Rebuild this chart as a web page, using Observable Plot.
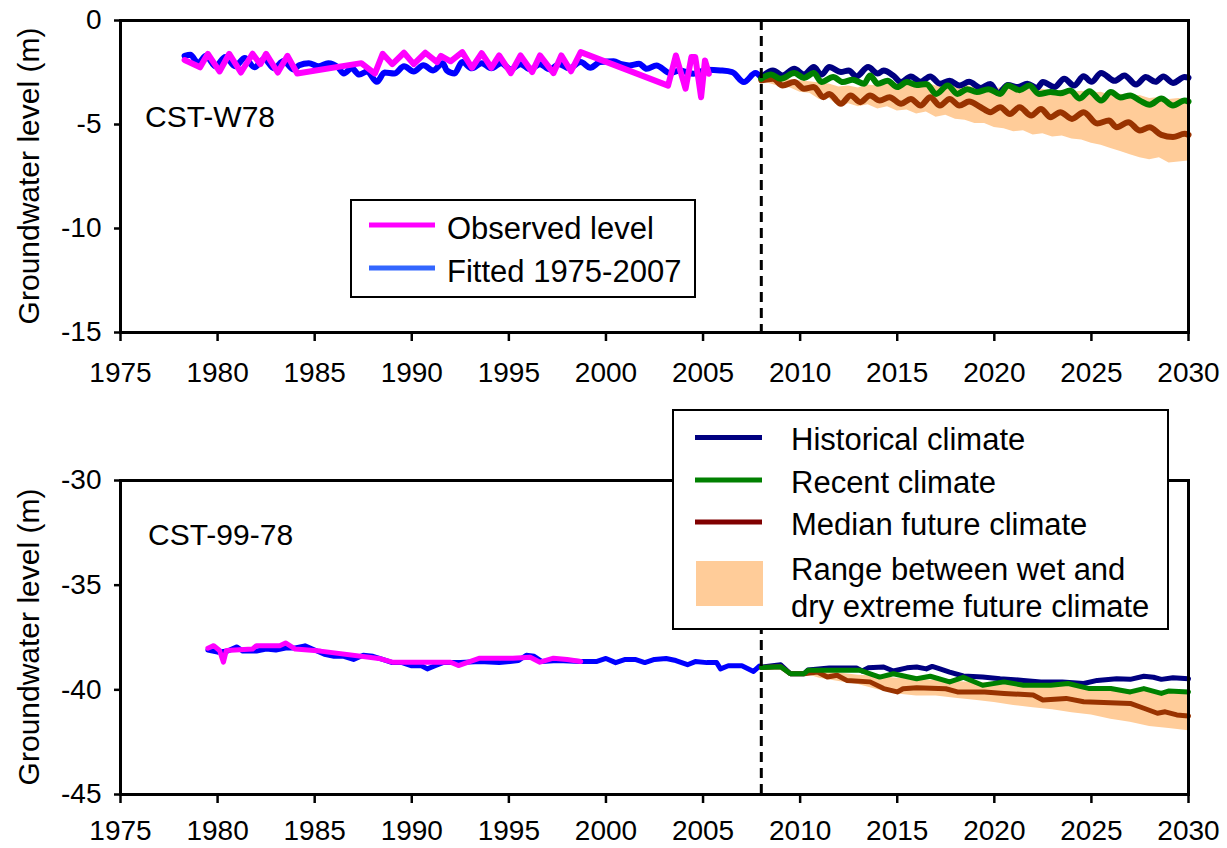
<!DOCTYPE html>
<html>
<head>
<meta charset="utf-8">
<script src="https://cdn.jsdelivr.net/npm/d3@7"></script>
<script src="https://cdn.jsdelivr.net/npm/@observablehq/plot@0.6"></script>
<style>
  html, body { margin: 0; padding: 0; background: #fff; }
  #page { position: relative; width: 1227px; height: 848px; overflow: hidden; font-family: "Liberation Sans", Arial, sans-serif; }
  .panel { position: absolute; left: 0; }
  #overlay { position: absolute; left: 0; top: 0; pointer-events: none; }
</style>
</head>
<body>
<div id="page">
  <div id="top" class="panel" style="top:0"></div>
  <div id="bottom" class="panel" style="top:400px"></div>
  <svg id="overlay" width="1227" height="848" font-family="Liberation Sans, Arial, sans-serif"></svg>
</div>
<script>
// ---------- shared axis values ----------
const yearTicks = [1975, 1980, 1985, 1990, 1995, 2000, 2005, 2010, 2015, 2020, 2025, 2030];
const scenarioStart = 2008;

// ---------- CST-W78 (top panel) ----------
const w78LevelTicks = [0, -5, -10, -15];
const w78Observed = [
  [1978.3,-1.9],[1979.1,-2.25],[1979.5,-1.6],[1980.1,-2.45],[1980.6,-1.6],[1981.2,-2.5],[1981.8,-1.6],
  [1982.2,-2.1],[1982.5,-1.6],[1983.1,-2.5],[1983.6,-1.7],[1984.1,-2.55],[1987.4,-2.05],[1988.1,-2.55],
  [1988.5,-1.6],[1989.0,-2.1],[1989.6,-1.55],[1990.1,-2.1],[1990.7,-1.55],[1991.3,-2.0],[1991.5,-1.7],
  [1992.0,-1.96],[1992.6,-1.52],[1993.1,-2.27],[1993.6,-1.57],[1994.1,-2.27],[1994.5,-1.68],[1995.1,-2.53],
  [1995.6,-1.68],[1996.2,-2.48],[1996.6,-1.68],[1997.3,-2.53],[1997.7,-1.68],[1998.2,-2.44],[1998.7,-1.52],
  [2003.2,-3.13],[2003.6,-1.68],[2004.1,-3.28],[2004.4,-1.76],[2004.6,-1.76],[2004.9,-3.69],[2005.1,-1.92],[2005.3,-2.56]
];
const w78Fitted = [
  [1978.3,-1.7],[1978.6,-1.65],[1979.0,-2.05],[1979.4,-1.7],[1979.9,-2.2],[1980.4,-1.75],[1980.9,-2.2],
  [1981.4,-1.8],[1981.9,-2.25],[1982.4,-1.85],[1982.9,-2.3],[1983.4,-1.95],[1983.9,-2.35],[1984.2,-2.15],
  [1984.7,-2.05],[1985.2,-2.2],[1985.7,-2.05],[1986.2,-2.25],[1986.5,-2.55],[1986.9,-2.3],[1987.3,-2.6],
  [1987.7,-2.45],[1988.2,-2.95],[1988.6,-2.5],[1989.1,-2.55],[1989.6,-2.2],[1990.1,-2.45],[1990.6,-2.15],
  [1991.1,-2.4],[1991.6,-2.05],[1991.8,-2.4],[1992.2,-2.55],[1992.6,-2.0],[1993.1,-2.3],[1993.6,-2.05],
  [1994.1,-2.3],[1994.6,-2.05],[1995.1,-2.35],[1995.6,-2.1],[1996.1,-2.35],[1996.6,-2.1],[1997.1,-2.35],
  [1997.6,-2.1],[1998.1,-2.3],[1998.7,-2.0],[1999.2,-2.27],[1999.7,-2.0],[2000.4,-1.96],[2000.8,-2.1],
  [2001.2,-2.16],[2001.7,-2.08],[2002.1,-2.32],[2002.6,-2.16],[2003.3,-2.53],[2003.8,-2.4],[2004.5,-2.56],
  [2005.2,-2.37],[2005.9,-2.4],[2006.5,-2.48],[2007.1,-2.96],[2007.7,-2.53],[2008.0,-2.76]
];
const w78Historical = [
  [2008.0,-2.72],[2008.6,-2.4],[2009.1,-2.64],[2009.7,-2.32],[2010.2,-2.6],[2010.7,-2.24],[2011.1,-2.6],
  [2011.5,-2.24],[2012.1,-2.48],[2012.5,-2.4],[2012.9,-2.69],[2013.5,-2.24],[2014.0,-2.55],[2014.3,-2.4],
  [2014.8,-2.65],[2015.2,-2.96],[2015.7,-2.69],[2016.2,-2.95],[2016.7,-2.69],[2017.2,-3.04],[2017.7,-2.9],
  [2018.2,-3.13],[2018.7,-2.95],[2019.3,-3.24],[2019.8,-3.05],[2020.2,-3.5],[2020.7,-3.1],[2021.2,-3.2],
  [2021.7,-3.04],[2022.2,-3.24],[2022.5,-2.96],[2023.1,-3.2],[2023.6,-2.8],[2024.1,-3.13],[2024.6,-2.68],
  [2025.0,-2.95],[2025.5,-2.52],[2026.2,-2.9],[2026.7,-2.64],[2027.3,-3.08],[2027.8,-2.72],[2028.3,-2.95],
  [2028.7,-2.69],[2029.2,-3.0],[2029.8,-2.72],[2030.0,-2.75]
];
const w78Recent = [
  [2008.0,-2.8],[2008.5,-2.6],[2009.0,-2.8],[2009.7,-2.53],[2010.2,-2.76],[2010.7,-2.53],[2011.1,-2.96],
  [2011.7,-2.72],[2012.2,-2.96],[2012.7,-2.85],[2013.3,-3.04],[2013.6,-2.64],[2014.0,-3.04],[2014.5,-2.9],
  [2015.0,-3.2],[2015.5,-2.96],[2016.0,-3.1],[2016.5,-3.05],[2017.0,-3.53],[2017.6,-3.13],[2018.1,-3.53],
  [2018.6,-3.3],[2019.1,-3.44],[2019.7,-3.3],[2020.3,-3.53],[2020.7,-3.13],[2021.3,-3.35],[2021.8,-3.13],
  [2022.3,-3.53],[2022.9,-3.44],[2023.4,-3.5],[2023.9,-3.37],[2024.4,-3.75],[2024.9,-3.4],[2025.5,-3.85],
  [2026.0,-3.44],[2026.5,-3.7],[2027.0,-3.6],[2027.5,-3.85],[2028.0,-4.05],[2028.6,-3.75],[2029.2,-4.09],
  [2029.8,-3.85],[2030.0,-3.9]
];
const w78Median = [
  [2008.0,-2.88],[2008.6,-2.8],[2009.1,-3.13],[2009.7,-2.96],[2010.2,-3.28],[2010.7,-3.2],[2011.2,-3.69],
  [2011.5,-3.53],[2012.1,-4.0],[2012.6,-3.6],[2013.1,-3.93],[2013.6,-3.6],[2014.1,-3.85],[2014.6,-3.69],
  [2015.2,-4.0],[2015.7,-3.77],[2016.2,-4.09],[2016.7,-3.69],[2017.2,-4.09],[2017.7,-3.77],[2018.2,-4.09],
  [2018.7,-3.9],[2019.3,-4.17],[2019.8,-4.41],[2020.3,-4.17],[2020.8,-4.49],[2021.3,-4.17],[2021.9,-4.57],
  [2022.4,-4.25],[2022.9,-4.65],[2023.4,-4.41],[2024.0,-4.73],[2024.6,-4.41],[2025.3,-4.95],[2025.9,-4.81],
  [2026.3,-5.13],[2026.9,-4.89],[2027.5,-5.29],[2028.0,-5.13],[2028.6,-5.5],[2029.2,-5.6],[2029.8,-5.45],[2030.0,-5.5]
];
// [year, wet (upper), dry (lower)]
const w78Range = [
  [2008.0,-2.8,-2.95],[2008.5,-2.75,-3.05],[2009.0,-2.8,-3.2],[2009.5,-2.85,-3.25],[2010.0,-2.9,-3.45],
  [2010.5,-2.95,-3.5],[2011.0,-3.0,-3.8],[2011.5,-3.05,-3.75],[2012.0,-3.2,-4.15],[2012.5,-3.15,-4.0],
  [2013.0,-3.25,-4.15],[2013.5,-3.1,-4.05],[2014.0,-3.15,-4.25],[2014.5,-3.05,-4.15],[2015.0,-3.05,-4.35],
  [2015.5,-2.95,-4.3],[2016.0,-3.05,-4.5],[2016.5,-3.0,-4.4],[2017.0,-3.15,-4.65],[2017.5,-3.05,-4.55],
  [2018.0,-3.2,-4.75],[2018.5,-3.1,-4.8],[2019.0,-3.25,-4.95],[2019.5,-3.15,-4.95],[2020.0,-3.3,-5.15],
  [2020.5,-3.2,-5.2],[2021.0,-3.35,-5.35],[2021.5,-3.25,-5.3],[2022.0,-3.35,-5.5],[2022.5,-3.3,-5.45],
  [2023.0,-3.4,-5.6],[2023.5,-3.35,-5.55],[2024.0,-3.45,-5.7],[2024.5,-3.4,-5.75],[2025.0,-3.5,-5.9],
  [2025.5,-3.45,-6.0],[2026.0,-3.6,-6.15],[2026.5,-3.55,-6.3],[2027.0,-3.65,-6.45],[2027.5,-3.6,-6.6],
  [2028.0,-3.75,-6.7],[2028.5,-3.7,-6.6],[2029.0,-3.8,-6.85],[2029.5,-3.75,-6.8],[2030.0,-3.85,-6.75]
];

// ---------- CST-99-78 (bottom panel) ----------
const c9978LevelTicks = [-30, -35, -40, -45];
const c9978Observed = [
  [1979.5,-38.01],[1979.8,-37.89],[1980.1,-38.12],[1980.3,-38.68],[1980.45,-38.12],[1981.8,-38.05],
  [1982.0,-37.89],[1983.2,-37.89],[1983.5,-37.76],[1984.0,-38.05],[1985.3,-38.15],[1988.4,-38.52],
  [1989.0,-38.68],[1992.0,-38.68],[1992.4,-38.84],[1993.5,-38.49],[1995.2,-38.49],[1996.1,-38.44],
  [1996.6,-38.68],[1997.3,-38.49],[1998.0,-38.55],[1998.7,-38.65]
];
const c9978Fitted = [
  [1979.5,-38.1],[1980.0,-38.2],[1980.5,-38.15],[1981.0,-37.95],[1981.3,-38.15],[1982.0,-38.15],
  [1982.5,-38.05],[1983.0,-38.1],[1983.5,-38.0],[1984.0,-38.0],[1984.5,-37.9],[1985.0,-38.1],
  [1985.5,-38.3],[1986.0,-38.4],[1986.5,-38.4],[1987.0,-38.55],[1987.5,-38.35],[1988.0,-38.4],
  [1988.5,-38.55],[1989.0,-38.7],[1989.5,-38.7],[1990.0,-38.85],[1990.5,-38.85],[1990.8,-39.0],
  [1991.2,-38.85],[1991.6,-38.7],[1992.5,-38.7],[1993.5,-38.65],[1994.5,-38.7],[1995.5,-38.6],
  [1995.9,-38.35],[1996.3,-38.4],[1996.7,-38.65],[1997.5,-38.6],[1998.7,-38.65],[1999.5,-38.65],
  [2000.0,-38.5],[2000.5,-38.7],[2001.0,-38.55],[2001.5,-38.55],[2002.0,-38.7],[2002.5,-38.55],
  [2003.1,-38.5],[2003.6,-38.6],[2004.2,-38.8],[2004.6,-38.65],[2005.2,-38.7],[2005.7,-38.7],
  [2005.9,-39.0],[2006.3,-38.85],[2007.0,-38.85],[2007.6,-39.12],[2007.9,-38.87],[2008.0,-38.93]
];
const c9978Historical = [
  [2008.0,-38.91],[2009.0,-38.8],[2009.5,-39.23],[2010.2,-39.23],[2010.4,-39.05],[2011.5,-38.96],
  [2012.9,-38.96],[2013.2,-39.1],[2013.5,-38.95],[2014.3,-38.91],[2014.8,-39.1],[2015.5,-38.95],
  [2016.0,-38.91],[2016.5,-39.0],[2016.8,-38.88],[2017.2,-39.0],[2017.7,-39.15],[2018.4,-39.34],
  [2019.4,-39.39],[2020.3,-39.47],[2021.5,-39.55],[2022.4,-39.62],[2023.5,-39.62],[2024.6,-39.7],
  [2025.3,-39.55],[2026.3,-39.47],[2027.0,-39.5],[2027.7,-39.35],[2028.2,-39.4],[2028.6,-39.5],
  [2029.2,-39.42],[2030.0,-39.47]
];
const c9978Recent = [
  [2008.0,-38.93],[2009.0,-38.9],[2009.5,-39.23],[2010.2,-39.23],[2010.4,-39.07],[2013.1,-39.07],
  [2013.5,-39.2],[2014.1,-39.39],[2014.8,-39.23],[2016.0,-39.47],[2016.7,-39.35],[2017.7,-39.62],
  [2018.4,-39.4],[2019.4,-39.78],[2020.5,-39.62],[2021.5,-39.78],[2022.9,-39.78],[2023.8,-39.7],
  [2024.9,-39.94],[2026.0,-39.94],[2027.0,-40.1],[2027.7,-39.94],[2028.6,-40.17],[2029.0,-40.05],[2030.0,-40.1]
];
const c9978Median = [
  [2008.0,-38.93],[2009.0,-38.9],[2009.5,-39.23],[2010.2,-39.23],[2010.9,-39.15],[2011.4,-39.39],
  [2011.9,-39.3],[2012.4,-39.55],[2013.6,-39.62],[2014.3,-39.94],[2015.0,-40.1],[2015.3,-39.95],
  [2016.0,-39.9],[2017.5,-39.95],[2018.1,-40.1],[2019.5,-40.1],[2020.5,-40.17],[2022.0,-40.25],
  [2022.5,-40.49],[2023.7,-40.41],[2024.6,-40.57],[2027.0,-40.65],[2027.7,-40.88],[2028.4,-41.12],
  [2028.8,-41.05],[2029.4,-41.2],[2030.0,-41.25]
];
const c9978Range = [
  [2008.0,-38.93,-38.93],[2009.0,-38.9,-39.0],[2009.5,-39.2,-39.3],[2010.5,-39.1,-39.3],[2011.0,-39.1,-39.45],
  [2012.0,-39.2,-39.6],[2013.0,-39.3,-39.75],[2014.0,-39.35,-40.0],[2015.0,-39.45,-40.2],[2016.0,-39.5,-40.3],
  [2017.0,-39.55,-40.3],[2018.0,-39.6,-40.4],[2019.0,-39.65,-40.5],[2020.0,-39.7,-40.6],[2021.0,-39.75,-40.75],
  [2022.0,-39.8,-40.85],[2023.0,-39.8,-40.95],[2024.0,-39.85,-41.1],[2025.0,-39.9,-41.2],[2026.0,-39.95,-41.4],
  [2027.0,-40.0,-41.55],[2028.0,-40.05,-41.75],[2029.0,-40.1,-41.85],[2030.0,-40.15,-41.95]
];

// ---------- styling ----------
const C = {
  observed: "#FF00FF", fitted: "#0000FF", fittedKey: "#3366FF",
  historical: "#000080", recent: "#008000", median: "#993300", medianKey: "#800000",
  range: "#FFCC99"
};
const fmt = d => String(d);

function panel({observed, fitted, historical, recent, median, range, levelTicks, height, marginTop, marginBottom, lineWidth, curve, tickPadding}) {
  const X = d => d[0], Y = d => d[1];
  return Plot.plot({
    width: 1227, height,
    marginLeft: 120, marginRight: 39, marginTop, marginBottom,
    style: {fontFamily: "'Liberation Sans', Arial, sans-serif", fontSize: "28px", color: "black", background: "white"},
    x: {domain: [1975, 2030]},
    y: {domain: [levelTicks[levelTicks.length - 1], levelTicks[0]]},
    marks: [
      Plot.areaY(range, {x: X, y1: d => d[1], y2: d => d[2], fill: C.range}),
      Plot.line(fitted, {x: X, y: Y, stroke: C.fitted, strokeWidth: lineWidth, curve}),
      Plot.line(observed, {x: X, y: Y, stroke: C.observed, strokeWidth: lineWidth}),
      Plot.line(historical, {x: X, y: Y, stroke: C.historical, strokeWidth: lineWidth, curve}),
      Plot.line(median, {x: X, y: Y, stroke: C.median, strokeWidth: lineWidth, curve}),
      Plot.line(recent, {x: X, y: Y, stroke: C.recent, strokeWidth: lineWidth, curve}),
      Plot.ruleX([scenarioStart], {stroke: "black", strokeWidth: 3, strokeDasharray: "10,6"}),
      Plot.frame({stroke: "black", strokeWidth: 3}),
      Plot.axisX({ticks: yearTicks, tickFormat: fmt, tickSize: 9, tickPadding, strokeWidth: 2.5, label: null}),
      Plot.axisY({ticks: levelTicks, tickFormat: fmt, tickSize: 6, tickPadding: 13, strokeWidth: 2.5, label: null})
    ]
  });
}

document.getElementById("top").appendChild(panel({
  observed: w78Observed, fitted: w78Fitted, historical: w78Historical, recent: w78Recent,
  median: w78Median, range: w78Range, levelTicks: w78LevelTicks,
  height: 400, marginTop: 20, marginBottom: 68, lineWidth: 6, curve: "monotone-x", tickPadding: 21
}));
document.getElementById("bottom").appendChild(panel({
  observed: c9978Observed, fitted: c9978Fitted, historical: c9978Historical, recent: c9978Recent,
  median: c9978Median, range: c9978Range, levelTicks: c9978LevelTicks,
  height: 448, marginTop: 80, marginBottom: 54, lineWidth: 5, curve: "linear", tickPadding: 17
}));

// ---------- overlay: labels and legends ----------
const svg = d3.select("#overlay");
const yTitle = "Groundwater level (m)";
[[176], [637]].forEach(([cy]) => {
  svg.append("text").attr("transform", `translate(39,${cy}) rotate(-90)`)
    .attr("text-anchor", "middle").attr("font-size", 30).text(yTitle);
});
svg.append("text").attr("x", 145).attr("y", 127).attr("font-size", 30).text("CST-W78");
svg.append("text").attr("x", 148).attr("y", 545).attr("font-size", 30).text("CST-99-78");

// top legend
const leg1 = svg.append("g");
leg1.append("rect").attr("x", 351).attr("y", 200).attr("width", 344).attr("height", 97)
  .attr("fill", "white").attr("stroke", "black").attr("stroke-width", 2);
[["Observed level", C.observed, 225, 239], ["Fitted 1975-2007", C.fittedKey, 268, 282]].forEach(([t, c, ly, ty]) => {
  leg1.append("line").attr("x1", 369).attr("x2", 435).attr("y1", ly).attr("y2", ly).attr("stroke", c).attr("stroke-width", 5);
  leg1.append("text").attr("x", 447).attr("y", ty).attr("font-size", 31).text(t);
});

// bottom legend
const leg2 = svg.append("g");
leg2.append("rect").attr("x", 673).attr("y", 410).attr("width", 495).attr("height", 219)
  .attr("fill", "white").attr("stroke", "black").attr("stroke-width", 2);
[["Historical climate", C.historical, 437.5, 450], ["Recent climate", C.recent, 480, 493], ["Median future climate", C.medianKey, 522, 535]]
  .forEach(([t, c, ly, ty]) => {
    leg2.append("line").attr("x1", 695).attr("x2", 762).attr("y1", ly).attr("y2", ly).attr("stroke", c).attr("stroke-width", 5);
    leg2.append("text").attr("x", 791).attr("y", ty).attr("font-size", 31).text(t);
  });
leg2.append("rect").attr("x", 696).attr("y", 561).attr("width", 67).attr("height", 45).attr("fill", C.range);
leg2.append("text").attr("x", 791).attr("y", 580).attr("font-size", 31).text("Range between wet and");
leg2.append("text").attr("x", 791).attr("y", 617).attr("font-size", 31).text("dry extreme future climate");
</script>
</body>
</html>
